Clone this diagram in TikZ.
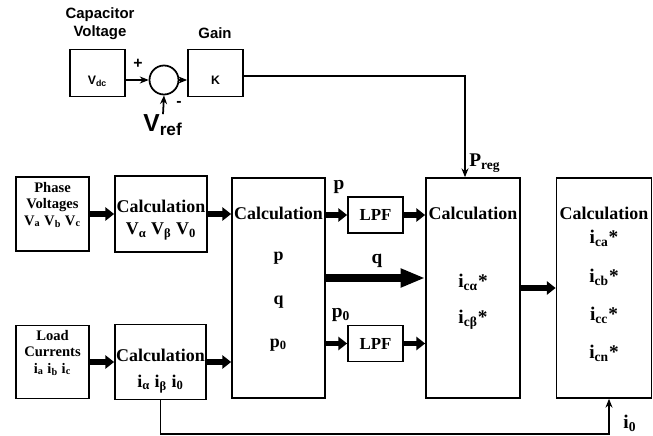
\documentclass[tikz,border=0pt]{standalone}
\usepackage{fontspec}
\setmainfont{Liberation Serif}
\newfontfamily\arialfont{Liberation Sans}
\usetikzlibrary{arrows.meta,positioning,calc}

\begin{document}
\begin{tikzpicture}[x=0.02cm,y=-0.02cm,
    blk/.style={draw,line width=1pt,inner sep=0pt},
    bigarrow/.style={line width=3.4pt,-{Triangle[length=5pt,width=7.5pt]}},
    thinarrow/.style={line width=1pt,-{Stealth[length=5pt,width=4pt]}},
    calctxt/.style={font=\bfseries\fontsize{10.2}{12.5}\selectfont,inner sep=0pt,align=center},
    smalltxt/.style={font=\bfseries\fontsize{8.3}{9.2}\selectfont,inner sep=0pt,align=center},
    sigtxt/.style={font=\bfseries\fontsize{11}{13}\selectfont,inner sep=0pt},
    toptxt/.style={font=\arialfont\bfseries\fontsize{8.5}{10.2}\selectfont,inner sep=0pt,align=center}]
    \useasboundingbox (0,0) rectangle (653,436);
    % dc-link voltage loop
    \node[blk,minimum width=1.1cm,minimum height=0.94cm] (vdc) at (97.5,73) {};
    \node[toptxt,font=\arialfont\bfseries\fontsize{7}{8}\selectfont] (vdctxt) at (97.5,81) {V\textsubscript{dc}};
    \node[toptxt] (captxt) at (100,24) {Capacitor\\Voltage};
    \node[draw,circle,line width=1pt,minimum size=0.58cm,inner sep=0pt] (sum) at (164,80) {};
    \node[blk,minimum width=1.1cm,minimum height=0.94cm] (k) at (215.5,73) {};
    \node[toptxt,font=\arialfont\bfseries\fontsize{7}{8}\selectfont] (ktxt) at (215.5,80) {K};
    \node[toptxt] (gaintxt) at (215,33) {Gain};
    \node[toptxt,font=\arialfont\bfseries\fontsize{14}{16}\selectfont] (vref) at (163,125) {V\textsubscript{ref}};
    \node[toptxt,font=\arialfont\bfseries\fontsize{9}{10}\selectfont] (plus) at (138,64) {+};
    \node[toptxt,font=\arialfont\bfseries\fontsize{9}{10}\selectfont] (minus) at (179,104) {-};
    \draw[thinarrow] (vdc.east |- sum) -- (sum.west);
    \draw[thinarrow] (sum.east) -- (sum -| k.west);
    \draw[thinarrow] (vref.north) -- (sum.south);
    % input blocks
    \node[blk,minimum width=1.46cm,minimum height=1.48cm] (phase) at (52.5,214) {};
    \node[smalltxt] (phasetxt) at (52.5,205) {Phase\\Voltages\\V\textsubscript{a} V\textsubscript{b} V\textsubscript{c}};
    \node[blk,minimum width=1.84cm,minimum height=1.52cm] (calcv) at (161,214) {};
    \node[calctxt] (calcvtxt) at (161,220) {Calculation\\V\textsubscript{α} V\textsubscript{β} V\textsubscript{0}};
    \node[blk,minimum width=1.46cm,minimum height=1.46cm] (load) at (52.5,362) {};
    \node[smalltxt] (loadtxt) at (52.5,353) {Load\\Currents\\i\textsubscript{a} i\textsubscript{b} i\textsubscript{c}};
    \node[blk,minimum width=1.82cm,minimum height=1.5cm] (calci) at (160.5,362) {};
    \node[calctxt,font=\bfseries\fontsize{10.2}{14.5}\selectfont] (calcitxt) at (160.5,371) {Calculation\\i\textsubscript{α} i\textsubscript{β} i\textsubscript{0}};
    % power calculation
    \node[blk,minimum width=1.86cm,minimum height=4.4cm] (pq) at (278.5,288) {};
    \node[calctxt] at (278.5,213) {Calculation};
    \node[calctxt] at (278.5,258) {p};
    \node[calctxt] at (278.5,302) {q};
    \node[calctxt] at (278.5,345) {p\textsubscript{0}};
    \node[blk,calctxt,font=\bfseries\fontsize{9.6}{11}\selectfont,minimum width=1.1cm,minimum height=0.72cm] (lpfp) at (375.5,215) {LPF};
    \node[blk,calctxt,font=\bfseries\fontsize{9.6}{11}\selectfont,minimum width=1.1cm,minimum height=0.72cm] (lpfz) at (375.5,343.5) {LPF};
    \node[sigtxt] (ptxt) at (339,187) {p};
    \node[sigtxt] (qtxt) at (377,261) {q};
    \node[sigtxt] (pztxt) at (341,315) {p\textsubscript{0}};
    % reference currents
    \node[blk,minimum width=1.88cm,minimum height=4.4cm] (calcab) at (473,288) {};
    \node[calctxt] at (473,213) {Calculation};
    \node[sigtxt] at (473,282) {i\textsubscript{cα}*};
    \node[sigtxt] at (473,320) {i\textsubscript{cβ}*};
    \node[blk,minimum width=1.9cm,minimum height=4.4cm] (calcabc) at (604,288) {};
    \node[calctxt] at (604,213) {Calculation};
    \node[sigtxt] at (604,238) {i\textsubscript{ca}*};
    \node[sigtxt] at (604,277) {i\textsubscript{cb}*};
    \node[sigtxt] at (604,315) {i\textsubscript{cc}*};
    \node[sigtxt] at (604,353) {i\textsubscript{cn}*};
    \node[sigtxt,anchor=west] (pregtxt) at (469,163) {P\textsubscript{reg}};
    \node[sigtxt] (izerotxt) at (630,423) {i\textsubscript{0}};
    % signal flow
    \draw[bigarrow] (phase.east) -- (calcv.west);
    \draw[bigarrow] (calcv.east) -- (calcv.east -| pq.west);
    \draw[bigarrow] (load.east) -- (calci.west);
    \draw[bigarrow] (calci.east) -- (calci.east -| pq.west);
    \draw[bigarrow] (lpfp.west -| pq.east) -- (lpfp.west);
    \draw[bigarrow] (lpfp.east) -- (lpfp.east -| calcab.west);
    \draw[bigarrow] (lpfz.west -| pq.east) -- (lpfz.west);
    \draw[bigarrow] (lpfz.east) -- (lpfz.east -| calcab.west);
    \draw[line width=4pt,-{Triangle[length=14pt,width=10pt]}] ($(pq.east)+(0,-10)$) -- ($(calcab.west)+(0,-10)$);
    \draw[bigarrow] (calcab.east) -- (calcabc.west);
    \draw[thinarrow] ($(k.east)+(0,3)$) -| ($(calcab.north)+(-8,0)$);
    \draw[thinarrow] (calci.south) -- ++(0,34) -| ($(calcabc.south)+(5,0)$);
\end{tikzpicture}
\end{document}
